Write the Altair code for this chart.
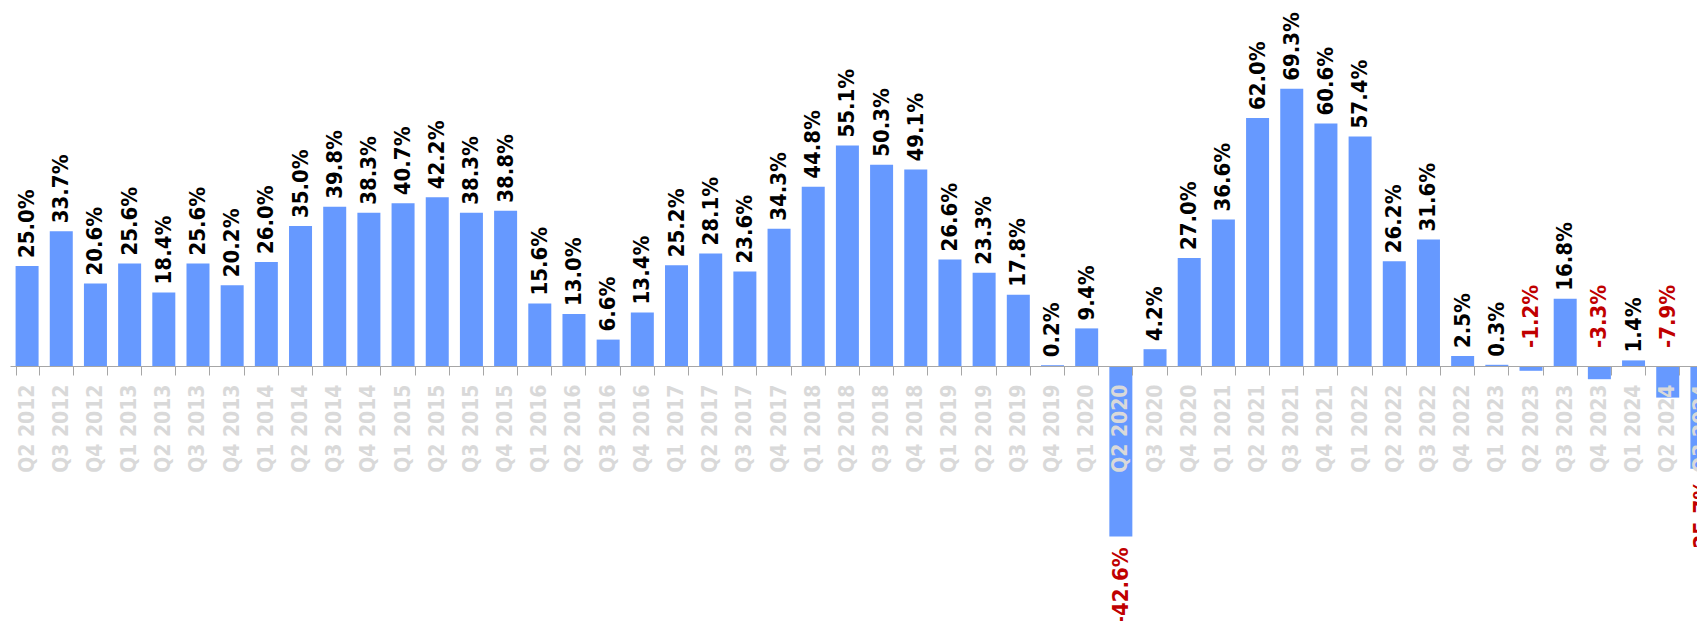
import altair as alt
import pandas as pd

quarters = [
    "Q2 2012", "Q3 2012", "Q4 2012",
    "Q1 2013", "Q2 2013", "Q3 2013", "Q4 2013",
    "Q1 2014", "Q2 2014", "Q3 2014", "Q4 2014",
    "Q1 2015", "Q2 2015", "Q3 2015", "Q4 2015",
    "Q1 2016", "Q2 2016", "Q3 2016", "Q4 2016",
    "Q1 2017", "Q2 2017", "Q3 2017", "Q4 2017",
    "Q1 2018", "Q2 2018", "Q3 2018", "Q4 2018",
    "Q1 2019", "Q2 2019", "Q3 2019", "Q4 2019",
    "Q1 2020", "Q2 2020", "Q3 2020", "Q4 2020",
    "Q1 2021", "Q2 2021", "Q3 2021", "Q4 2021",
    "Q1 2022", "Q2 2022", "Q3 2022", "Q4 2022",
    "Q1 2023", "Q2 2023", "Q3 2023", "Q4 2023",
    "Q1 2024", "Q2 2024", "Q3 2024",
]
values = [
    25.0, 33.7, 20.6,
    25.6, 18.4, 25.6, 20.2,
    26.0, 35.0, 39.8, 38.3,
    40.7, 42.2, 38.3, 38.8,
    15.6, 13.0, 6.6, 13.4,
    25.2, 28.1, 23.6, 34.3,
    44.8, 55.1, 50.3, 49.1,
    26.6, 23.3, 17.8, 0.2,
    9.4, -42.6, 4.2, 27.0,
    36.6, 62.0, 69.3, 60.6,
    57.4, 26.2, 31.6, 2.5,
    0.3, -1.2, 16.8, -3.3,
    1.4, -7.9, -25.7,
]

df = pd.DataFrame({"q": quarters, "v": values})
df["lbl"] = [f"{v:.1f}%" for v in values]

LABEL_FONT = "Liberation Sans Narrow, DejaVu Sans Condensed, sans-serif"
AXIS_FONT = "DejaVu Sans Condensed, DejaVu Sans, sans-serif"
Y_DOMAIN = [-64, 86]

x = alt.X(
    "q:N",
    sort=quarters,
    scale=alt.Scale(paddingInner=0.327, paddingOuter=0.1635),
    axis=alt.Axis(
        title=None,
        labelAngle=270,
        labelFont=AXIS_FONT,
        labelFontSize=21,
        labelFontWeight="bold",
        labelColor="#d9d9d9",
        labelPadding=9,
        labelOverlap=False,
        tickBand="extent",
        tickSize=9,
        tickColor="#a6a6a6",
        domainColor="#a6a6a6",
        offset=-256,
        zindex=1,
    ),
)
y = alt.Y(
    "v:Q",
    scale=alt.Scale(domain=Y_DOMAIN, nice=False, zero=True),
    axis=None,
)

base = alt.Chart(df).encode(x=x, y=y)

bars = base.mark_bar(color="#6699ff")

text_style = dict(angle=270, baseline="middle", font=LABEL_FONT,
                  fontSize=22, fontWeight="bold")

pos = base.transform_filter("datum.v >= 0").mark_text(
    align="left", dx=8, color="#000000", **text_style
).encode(text="lbl:N")

# small negative values: label sits above the zero line
neg_small = alt.Chart(df).transform_calculate(zero="0").transform_filter(
    "datum.v < 0 && datum.v > -10"
).mark_text(
    align="left", dx=18, color="#c00000", **text_style
).encode(
    x=x,
    y=alt.Y("zero:Q", scale=alt.Scale(domain=Y_DOMAIN, nice=False), axis=None),
    text="lbl:N",
)

neg = base.transform_filter("datum.v <= -10").mark_text(
    align="right", dx=-11, color="#c00000", **text_style
).encode(text="lbl:N")

chart = (
    alt.layer(bars, pos, neg_small, neg)
    .properties(
        width=1709,
        height=600,
        autosize=alt.AutoSizeParams(type="none"),
        padding={"left": 2, "top": 14, "right": -22, "bottom": 0},
    )
    .configure_view(stroke=None)
)

chart.save("out.html", embed_options={"renderer": "svg", "actions": False})
